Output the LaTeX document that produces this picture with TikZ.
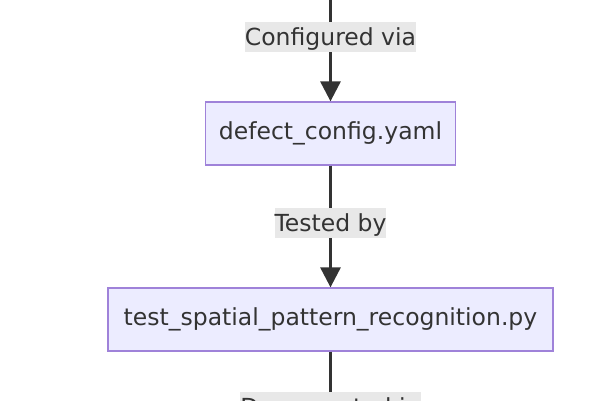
\documentclass[tikz,border=0pt]{standalone}
\usepackage{fontspec}
\setmainfont{DejaVu Sans}
\usetikzlibrary{arrows.meta}
\definecolor{nodefill}{HTML}{ECECFF}
\definecolor{nodeborder}{HTML}{9F82D9}
\definecolor{ink}{HTML}{333333}
\definecolor{labelbg}{HTML}{E8E8E8}
\tikzset{
  box/.style={draw=nodeborder, fill=nodefill, line width=1.3pt, text=ink,
    font=\fontsize{23.5}{28}\selectfont, minimum height=63pt, inner sep=0pt},
  elabel/.style={fill=labelbg, text=ink, font=\fontsize{23.5}{28}\selectfont,
    inner sep=0pt, text depth=7pt, text height=23pt},
  edge/.style={draw=ink, line width=3pt},
  arr/.style={edge, -{Triangle[length=20pt,width=20pt]}}
}
\begin{document}
\begin{tikzpicture}[x=1pt,y=-1pt]
\useasboundingbox (0,0) rectangle (595,400);
\clip (0,0) rectangle (595,400);
\fill[white] (0,0) rectangle (595,400);
\coordinate (top) at (330.5,-10);
\node[box, minimum width=250pt] (b1) at (330.5,133.5) {defect\_config.yaml};
\node[box, minimum width=445pt] (b2) at (330.5,319.5) {test\_spatial\_pattern\_recognition.py};
\node[elabel, minimum width=168pt] (l1) at (330.5,37) {Configured via};
\node[elabel, minimum width=110pt] (l2) at (330.5,223) {Tested by};
\node[elabel, minimum width=175pt] (l3) at (330.5,407) {Documented in};
\draw[edge] (top) -- (l1.north);
\draw[arr] (l1.south) -- (b1.north);
\draw[edge] (b1.south) -- (l2.north);
\draw[arr] (l2.south) -- (b2.north);
\draw[edge] (b2.south) -- (l3.north);
\end{tikzpicture}
\end{document}
